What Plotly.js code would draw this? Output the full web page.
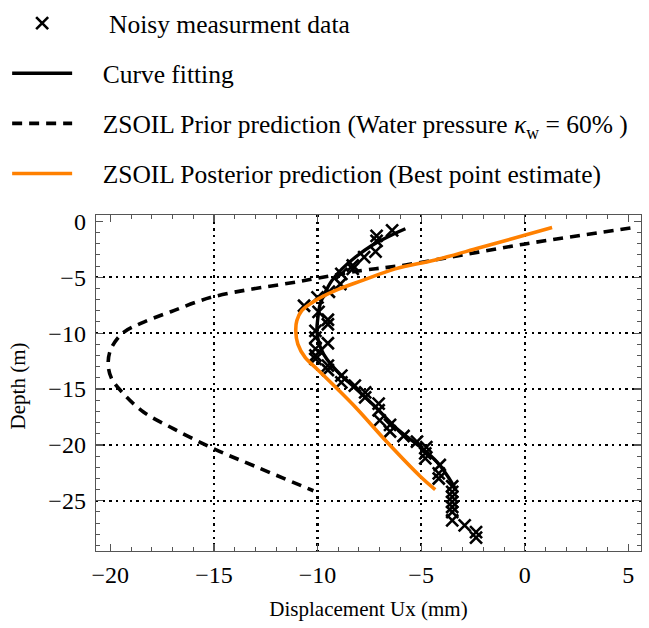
<!DOCTYPE html>
<html>
<head>
<meta charset="utf-8">
<script src="https://cdn.plot.ly/plotly-3.0.1.min.js"></script>
<style>html,body{margin:0;padding:0;background:#fff;}#chart{width:649px;height:628px;}</style>
</head>
<body>
<div id="chart"></div>
<script>
// Noisy measurement data (displacement mm, depth m)
const noisyX = [-6.4,-7.15,-7.15,-7.2,-7.75,-8.3,-8.3,-8.85,-8.9,-9.45,-10.0,-10.65,-9.95,-9.5,-9.5,-10.1,-10.1,-9.5,-10.1,-10.1,-10.1,-9.5,-9.5,-8.85,-8.85,-8.2,-7.7,-7.7,-7.05,-7.05,-7.0,-6.5,-6.5,-5.85,-5.2,-4.75,-4.8,-4.8,-4.1,-4.15,-4.15,-3.5,-3.5,-3.5,-3.5,-3.5,-3.5,-3.5,-2.9,-2.35,-2.35];
const noisyDepth = [-0.8,-1.3,-1.75,-2.7,-3.2,-3.95,-4.25,-4.7,-5.6,-6.3,-6.8,-7.55,-8.1,-8.8,-9.2,-9.8,-10.4,-10.9,-11.4,-12.0,-12.3,-12.9,-13.3,-13.8,-14.4,-14.7,-15.3,-15.75,-16.3,-16.9,-17.8,-18.2,-18.8,-19.2,-19.7,-20.2,-20.75,-21.2,-21.8,-22.55,-23.0,-23.7,-24.2,-24.65,-25.1,-25.55,-26.0,-26.75,-27.2,-27.8,-28.3];

// Curve fitting
const fitX = [-5.76,-6.57,-7.38,-8.18,-8.82,-9.31,-9.63,-9.87,-9.98,-10.03,-9.92,-9.7,-9.35,-8.9,-8.3,-7.3,-6.18,-5.05,-4.24,-3.44,-3.36];
const fitDepth = [-0.66,-1.35,-2.16,-3.21,-4.25,-5.3,-6.35,-7.39,-8.59,-9.78,-10.98,-11.9,-12.8,-13.7,-14.7,-16.43,-18.53,-20.17,-21.52,-23.61,-23.9];

// ZSOIL prior prediction
const priorX = [5.1,-0.05,-5.76,-7.86,-9.95,-10.92,-15.0,-17.08,-18.53,-19.42,-19.99,-20.1,-19.94,-19.37,-18.4,-16.96,-15.03,-12.93,-10.2];
const priorDepth = [-0.6,-2.04,-3.9,-4.4,-5.06,-5.39,-6.73,-8.08,-9.12,-10.02,-11.5,-12.86,-14.05,-15.4,-17.05,-18.54,-20.33,-21.98,-24.1];

// ZSOIL posterior prediction
const postX = [1.32,-2.14,-4.32,-6.25,-7.86,-9.15,-10.11,-10.76,-11.0,-11.05,-10.95,-10.6,-10.0,-8.27,-6.66,-5.05,-4.32];
const postDepth = [-0.55,-2.34,-3.45,-4.25,-5.3,-6.2,-7.09,-7.99,-8.89,-9.78,-10.98,-12.17,-13.25,-16.43,-19.72,-22.8,-24.0];

const xTickVals = [-20,-15,-10,-5,0,5];
const xGridVals = [-15,-10,-5,0];
const yTickVals = [0,-5,-10,-15,-20,-25];
const yGridVals = [-5,-10,-15,-20,-25];

const serif = "Liberation Serif, Times New Roman, serif";
const pad = '\u00A0\u00A0\u00A0\u00A0';

const traces = [
  {x: noisyX, y: noisyDepth, type:'scatter', mode:'markers', name: pad + '\u00A0Noisy measurment data', legendgroup:'a',
   marker:{symbol:'x-thin-open', size:12, color:'#000', line:{width:2.6, color:'#000'}}},
  {x: fitX, y: fitDepth, type:'scatter', mode:'lines', name: pad + 'Curve fitting', legendgroup:'b',
   line:{color:'#000', width:3.4, shape:'spline'}},
  {x: priorX, y: priorDepth, type:'scatter', mode:'lines', legendgroup:'c',
   name: pad + 'ZSOIL Prior prediction (Water pressure <i>κ</i><sub>w</sub> = 60% )',
   line:{color:'#000', width:3.6, dash:'10px,7px', shape:'spline'}},
  {x: postX, y: postDepth, type:'scatter', mode:'lines', legendgroup:'d',
   name: pad + 'ZSOIL Posterior prediction (Best point estimate)',
   line:{color:'#ff8000', width:3.6, shape:'spline'}},
  {x:[0], y:[0], xaxis:'x2', yaxis:'y2', mode:'markers', marker:{opacity:0}, showlegend:false, hoverinfo:'skip'}
];

const axisCommon = {
  showline:true, linecolor:'#555', linewidth:1.3, mirror:'allticks',
  ticks:'inside', ticklen:7, tickwidth:1.2, tickcolor:'#555',
  zeroline:false, showgrid:false,
  tickfont:{family:serif, size:24, color:'#000'},
  minor:{dtick:1, ticks:'inside', ticklen:4, tickwidth:1, tickcolor:'#555', showgrid:false}
};

const layout = {
  width:649, height:628,
  margin:{l:96, r:8, t:215, b:77, autoexpand:false},
  paper_bgcolor:'#fff', plot_bgcolor:'#fff',
  font:{family:serif, color:'#000'},
  showlegend:true,
  legend:{xref:'container', yref:'container', x:0.011, y:1.0, xanchor:'left', yanchor:'top',
    font:{family:serif, size:25.5, color:'#000'}, itemwidth:60, traceorder:'grouped', tracegroupgap:14,
    bgcolor:'rgba(0,0,0,0)'},
  xaxis: Object.assign({}, axisCommon, {
    range:[-20.69, 5.61], tickvals:xTickVals, ticklabelstandoff:2,
    title:{text:'Displacement Ux (mm)', font:{family:serif, size:21, color:'#000'}, standoff:14}
  }),
  yaxis: Object.assign({}, axisCommon, {
    range:[-29.49, 0.57], tickvals:yTickVals, ticklabelstandoff:4
  }),
  xaxis2:{overlaying:'x', range:[-20.69,5.61], tickvals:xGridVals, showticklabels:false,
    showgrid:true, gridcolor:'#000', gridwidth:2.3, griddash:'2.3px,4.4px', zeroline:false, showline:false, ticks:''},
  yaxis2:{overlaying:'y', range:[-29.49,0.57], tickvals:yGridVals, showticklabels:false,
    showgrid:true, gridcolor:'#000', gridwidth:2.3, griddash:'2.3px,4.4px', zeroline:false, showline:false, ticks:''},
  annotations:[{text:'Depth (m)', xref:'paper', yref:'paper', x:-0.143, y:0.49, xanchor:'center', yanchor:'middle',
    textangle:-90, showarrow:false, font:{family:serif, size:21, color:'#000'}}]
};

Plotly.newPlot('chart', traces, layout, {displayModeBar:false, staticPlot:true});
</script>
</body>
</html>
